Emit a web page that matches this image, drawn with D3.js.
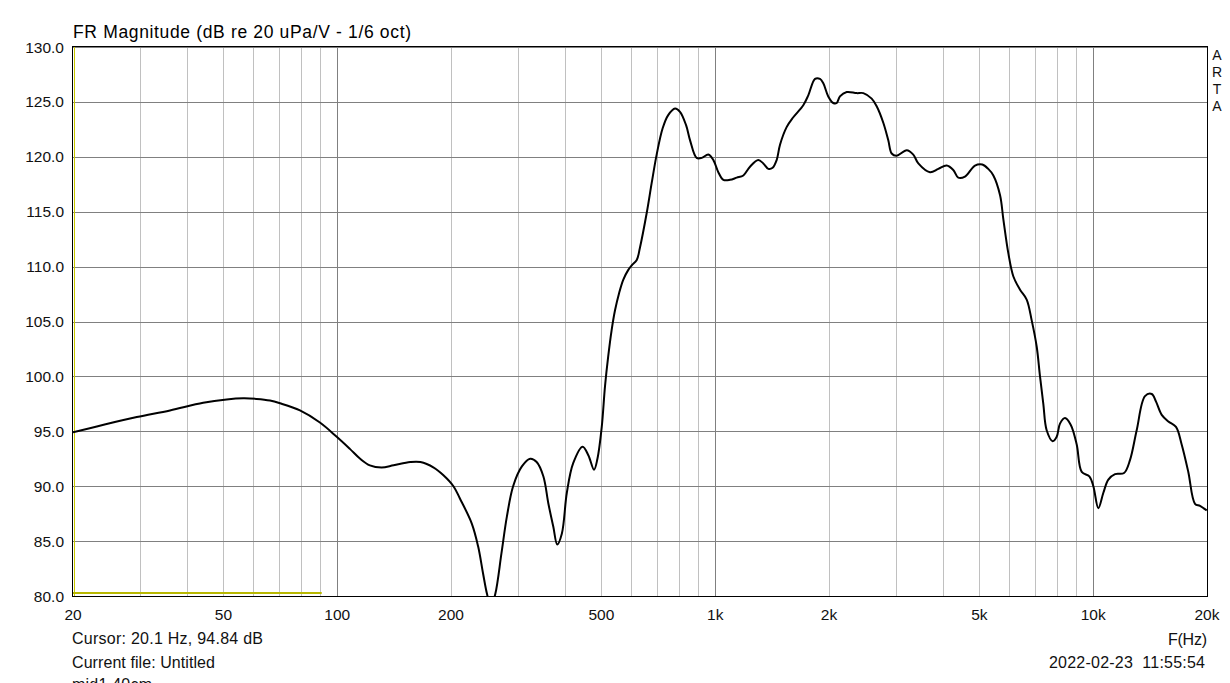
<!DOCTYPE html>
<html>
<head>
<meta charset="utf-8">
<script src="https://cdn.jsdelivr.net/npm/d3@7"></script>
<style>
  body { margin: 0; background: #fff; }
  svg { display: block; font-family: "Liberation Sans", Arial, sans-serif; }
</style>
</head>
<body>
<svg id="chart" width="1230" height="683"></svg>
<script>
// measured response, 1/6 oct smoothing
const freqHz = [
  20, 24.1, 29.5, 36.1, 44.2, 51, 56.4, 61.2, 66.4, 70.6, 79.7, 90, 99.7,
  108, 115, 122, 131, 141, 156, 166, 180, 191, 203, 211, 227, 236, 243, 249,
  255, 262, 272, 281, 292, 308, 324, 337, 351, 362, 373, 382, 393, 405, 421,
  446, 462, 478, 488, 501, 511, 521, 532, 543, 557, 571, 589, 601, 620, 632,
  659, 679, 700, 726, 751, 783, 807, 837, 858, 893, 921, 959, 989, 1019,
  1051, 1094, 1140, 1187, 1236, 1300, 1340, 1382, 1419, 1454, 1484, 1545,
  1609, 1710, 1763, 1837, 1893, 1932, 1991, 2053, 2096, 2138, 2228, 2368,
  2465, 2594, 2674, 2784, 2870, 2930, 3021, 3211, 3342, 3446, 3700, 3893,
  4096, 4264, 4395, 4579, 4866, 5088, 5277, 5443, 5670, 5785, 5964, 6149,
  6404, 6668, 6875, 7088, 7232, 7379, 7531, 7812, 8006, 8168, 8421, 8718,
  9044, 9324, 9766, 10008, 10318, 10638, 10966, 11422, 12066, 12516, 13032,
  13709, 14281, 14662, 15178, 15803, 16558, 17140, 17846, 18590, 19166, 19964
];
const levelDb = [
  94.9, 95.6, 96.3, 96.9, 97.6, 97.9, 98.0, 97.95, 97.8, 97.55, 96.9, 95.8, 94.5,
  93.4, 92.5, 91.9, 91.7, 91.9, 92.2, 92.2, 91.7, 91.0, 90.0, 88.9, 86.6, 84.5, 82.1, 80.2,
  79.0, 80.2, 83.9, 87.2, 90.0, 91.8, 92.5, 92.2, 90.9, 88.4, 86.3, 84.7, 85.7, 89.4, 92.1,
  93.6, 92.8, 91.5, 92.5, 95.4, 99.1, 101.8, 104.2, 106.0, 107.6, 108.8, 109.7, 110.1, 110.6, 111.7,
  114.9, 117.6, 120.2, 122.6, 123.8, 124.4, 124.1, 122.9, 121.5, 119.9, 119.9, 120.2, 119.7, 118.6,
  117.9, 117.9, 118.1, 118.3, 119.1, 119.7, 119.4, 118.9, 119.0, 119.7, 121.1, 122.7,
  123.6, 124.7, 125.6, 127.1, 127.1, 126.7, 125.5, 124.9, 124.9, 125.5, 125.9, 125.8,
  125.8, 125.3, 124.6, 123.1, 121.5, 120.3, 120.1, 120.6, 120.2, 119.4, 118.6, 118.9,
  119.2, 118.8, 118.1, 118.2, 119.2, 119.3, 118.9, 118.3, 116.5, 114.3, 111.2, 109.1,
  107.9, 107.0, 105.1, 102.7, 100.0, 97.5, 95.1, 94.1, 94.5, 95.7, 96.2, 95.6,
  93.8, 91.3, 90.9, 90.0, 88.0, 89.4, 90.6, 91.1, 91.2, 92.4, 95.1,
  98.2, 98.4, 97.7, 96.5, 95.9, 95.4, 93.8, 91.3, 88.4, 88.2, 87.8
];

const yTicks = [80, 85, 90, 95, 100, 105, 110, 115, 120, 125, 130];
const xLabelTicks = [20, 50, 100, 200, 500, 1000, 2000, 5000, 10000, 20000];
const xLabelText = ["20", "50", "100", "200", "500", "1k", "2k", "5k", "10k", "20k"];
const xMajorGrid = [100, 1000, 10000];
const xMinorGrid = [30, 40, 50, 60, 70, 80, 90, 200, 300, 400, 500, 600, 700, 800, 900,
  2000, 3000, 4000, 5000, 6000, 7000, 8000, 9000];
const cursorHz = 20.1;
const bandEndHz = 91;

const svg = d3.select("#chart");
const plotL = 73, plotR = 1207, plotT = 47, plotB = 596;

const x = d3.scaleLog().domain([20, 20000]).range([plotL, plotR]);
const y = d3.scaleLinear().domain([80, 130]).range([plotB, plotT]);
const snap = v => Math.round(v) + 0.5;

// grid
const grid = svg.append("g");
grid.selectAll(".minor")
  .data(xMinorGrid)
  .enter().append("line")
  .attr("x1", d => snap(x(d))).attr("x2", d => snap(x(d)))
  .attr("y1", plotT).attr("y2", plotB)
  .attr("stroke", "#c0c0c0");
grid.selectAll(".major")
  .data(xMajorGrid)
  .enter().append("line")
  .attr("x1", d => snap(x(d))).attr("x2", d => snap(x(d)))
  .attr("y1", plotT).attr("y2", plotB)
  .attr("stroke", "#808080");
grid.selectAll(".hz")
  .data(yTicks)
  .enter().append("line")
  .attr("x1", plotL).attr("x2", plotR)
  .attr("y1", d => snap(y(d))).attr("y2", d => snap(y(d)))
  .attr("stroke", "#808080");

// clip
svg.append("clipPath").attr("id", "plot")
  .append("rect")
  .attr("x", plotL).attr("y", plotT)
  .attr("width", plotR - plotL).attr("height", plotB - plotT);

// yellow cursor marks
svg.append("line")
  .attr("x1", snap(x(cursorHz))).attr("x2", snap(x(cursorHz)))
  .attr("y1", plotT).attr("y2", plotB)
  .attr("stroke", "#c8c800");
svg.append("line")
  .attr("x1", plotL).attr("x2", x(bandEndHz))
  .attr("y1", plotB - 3).attr("y2", plotB - 3)
  .attr("stroke", "#b8b800")
  .attr("stroke-width", 2);

// curve
const pts = freqHz.map((f, i) => [f, levelDb[i]]);
const line = d3.line()
  .x(d => x(d[0]))
  .y(d => y(d[1]))
  .curve(d3.curveCatmullRom.alpha(0.5));
svg.append("path")
  .datum(pts)
  .attr("clip-path", "url(#plot)")
  .attr("d", line)
  .attr("fill", "none")
  .attr("stroke", "#000")
  .attr("stroke-width", 2)
  .attr("stroke-linejoin", "round");

// frame
svg.append("rect")
  .attr("x", plotL - 0.5).attr("y", plotT - 0.5)
  .attr("width", plotR - plotL + 1).attr("height", plotB - plotT + 1)
  .attr("fill", "none")
  .attr("stroke", "#000");

// y labels
svg.append("g").selectAll("text")
  .data(yTicks)
  .enter().append("text")
  .attr("x", 64)
  .attr("y", d => y(d))
  .attr("dy", "0.36em")
  .attr("text-anchor", "end")
  .attr("font-size", 15.5)
  .attr("fill", "#111")
  .text(d => d.toFixed(1));

// x labels
svg.append("g").selectAll("text")
  .data(xLabelTicks)
  .enter().append("text")
  .attr("x", d => x(d))
  .attr("y", 620)
  .attr("text-anchor", "middle")
  .attr("font-size", 15.5)
  .attr("fill", "#111")
  .text((d, i) => xLabelText[i]);

svg.append("text")
  .attr("x", 73).attr("y", 38)
  .attr("font-size", 17.5)
  .attr("textLength", 338)
  .attr("lengthAdjust", "spacing")
  .attr("fill", "#000")
  .text("FR Magnitude (dB re 20 uPa/V - 1/6 oct)");

const info = [
  { t: "Cursor: 20.1 Hz, 94.84 dB", x: 72, y: 644, a: "start", w: 191 },
  { t: "Current file: Untitled", x: 72, y: 668, a: "start", w: 143 },
  { t: "mid1 40cm", x: 72, y: 690, a: "start", w: 80 },
  { t: "F(Hz)", x: 1207, y: 645, a: "end", w: 39 },
  { t: "2022-02-23  11:55:54", x: 1205, y: 668, a: "end", w: 156 }
];
svg.append("g").selectAll("text")
  .data(info)
  .enter().append("text")
  .attr("x", d => d.x).attr("y", d => d.y)
  .attr("text-anchor", d => d.a)
  .attr("font-size", 16)
  .attr("textLength", d => d.w)
  .attr("lengthAdjust", "spacing")
  .attr("fill", "#111")
  .style("white-space", "pre")
  .text(d => d.t);

svg.append("g").selectAll("text")
  .data(["A", "R", "T", "A"])
  .enter().append("text")
  .attr("x", 1217)
  .attr("y", (d, i) => 60 + i * 17)
  .attr("text-anchor", "middle")
  .attr("font-size", 14)
  .attr("fill", "#111")
  .text(d => d);
</script>
</body>
</html>
